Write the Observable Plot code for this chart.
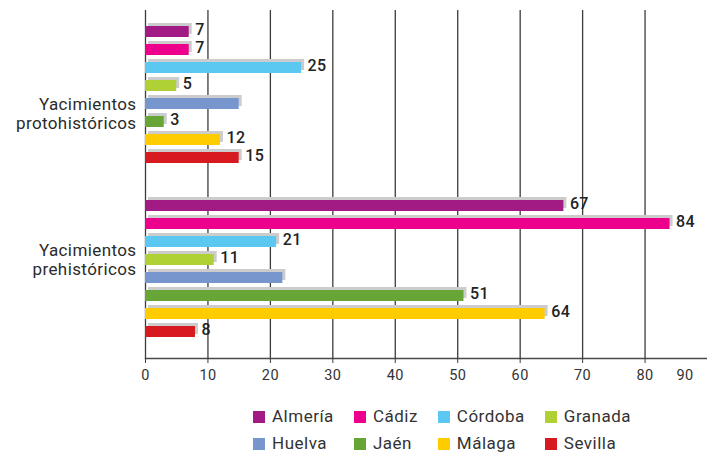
<!DOCTYPE html>
<html>
<head>
<meta charset="utf-8">
<script src="https://cdn.jsdelivr.net/npm/d3@7"></script>
<script src="https://cdn.jsdelivr.net/npm/@observablehq/plot@0.6"></script>
<style>
  html, body { margin: 0; padding: 0; background: #fff; overflow: hidden; }
  body { font-family: Roboto, "Noto Sans", sans-serif; color: #2b2b2b; width: 707px; height: 452px; }
  #chart svg text { letter-spacing: 0.4px; }
  #legend {
    display: grid;
    grid-template-columns: repeat(4, auto);
    column-gap: 20px;
    row-gap: 10px;
    width: max-content;
    margin-left: 253px;
    margin-top: 13px;
    font-size: 17px;
    letter-spacing: 0.5px;
    line-height: 17px;
    color: #333;
  }
  .item { display: flex; align-items: center; white-space: nowrap; }
  .sw { width: 12px; height: 12px; margin-right: 7px; flex: none; }
</style>
</head>
<body>
<div id="chart"></div>
<div id="legend"></div>
<script>
const provinces = ["Almería", "Cádiz", "Córdoba", "Granada", "Huelva", "Jaén", "Málaga", "Sevilla"];
const provinceColors = ["#a21a84", "#ec008c", "#5bc8f2", "#afd136", "#7896ce", "#66a536", "#ffcc00", "#d71920"];
const groups = ["Yacimientos protohistóricos", "Yacimientos prehistóricos"];
const groupLabels = ["Yacimientos\nprotohistóricos", "Yacimientos\nprehistóricos"];
const protoValues = [7, 7, 25, 5, 15, 3, 12, 15];
const preValues = [67, 84, 21, 11, 22, 51, 64, 8];
const protoLabels = ["7", "7", "25", "5", "", "3", "12", "15"];
const preLabels = ["67", "84", "21", "11", "", "51", "64", "8"];
const gridTicks = [0, 10, 20, 30, 40, 50, 60, 70, 80];
const lastTick = [90];

const rows = [];
provinces.forEach((p, i) => rows.push({group: groups[0], province: p, value: protoValues[i], label: protoLabels[i]}));
provinces.forEach((p, i) => rows.push({group: groups[1], province: p, value: preValues[i], label: preLabels[i]}));

const chart = Plot.plot({
  width: 707,
  height: 395,
  marginLeft: 145,
  marginRight: 0,
  marginTop: 10,
  marginBottom: 37,
  style: {background: "white", fontFamily: "Roboto, 'Noto Sans', sans-serif", color: "#2b2b2b"},
  x: {domain: [0, 90], axis: null},
  y: {domain: provinces, axis: null, paddingInner: 0.37, paddingOuter: 0.87, align: 0.43},
  fy: {domain: groups, axis: null, padding: 0},
  color: {domain: provinces, range: provinceColors},
  marks: [
    Plot.ruleX(gridTicks, {stroke: "#3c3c3c", strokeWidth: 1.3}),
    Plot.barX(rows, {fy: "group", y: "province", x: "value", fill: "#cccccc", dx: 3, dy: -3}),
    Plot.barX(rows, {fy: "group", y: "province", x: "value", fill: "province"}),
    Plot.text(rows, {fy: "group", y: "province", x: "value", text: "label", dx: 6, dy: -2,
      textAnchor: "start", fontSize: 16, fontWeight: 500, fill: "#222"}),
    Plot.text([groupLabels[0]], {fy: () => groups[0], text: d => d, frameAnchor: "left", textAnchor: "end",
      dx: -9, dy: 16, fontSize: 17, lineHeight: 1.12, fill: "#2b2b2b"}),
    Plot.text([groupLabels[1]], {fy: () => groups[1], text: d => d, frameAnchor: "left", textAnchor: "end",
      dx: -9, dy: -12, fontSize: 17, lineHeight: 1.12, fill: "#2b2b2b"}),
    Plot.frame({anchor: "bottom", facetAnchor: "bottom", stroke: "#4a4a4a", strokeWidth: 1.5}),
    Plot.axisX(gridTicks, {label: null, tickSize: 5, tickPadding: 6, fontSize: 14.5, stroke: "#3c3c3c", fill: "#333"}),
    Plot.axisX(lastTick, {label: null, tickSize: 0, tickPadding: 11, textAnchor: "end", dx: -14, fontSize: 14.5, fill: "#333"})
  ]
});
document.getElementById("chart").appendChild(chart);

const legend = document.getElementById("legend");
provinces.forEach((p, i) => {
  const item = document.createElement("div");
  item.className = "item";
  const sw = document.createElement("span");
  sw.className = "sw";
  sw.style.background = provinceColors[i];
  const t = document.createElement("span");
  t.textContent = p;
  item.appendChild(sw);
  item.appendChild(t);
  legend.appendChild(item);
});
</script>
</body>
</html>
